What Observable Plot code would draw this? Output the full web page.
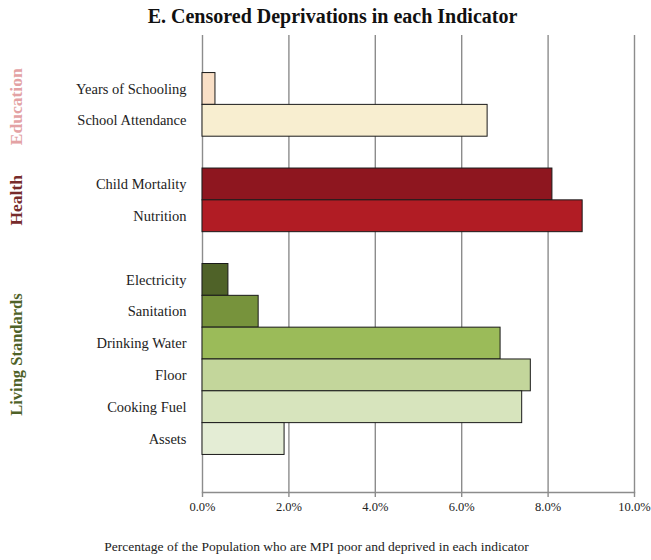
<!DOCTYPE html>
<html>
<head>
<meta charset="utf-8">
<script src="https://cdn.jsdelivr.net/npm/d3@7"></script>
<script src="https://cdn.jsdelivr.net/npm/@observablehq/plot@0.6"></script>
<style>
  html, body { margin: 0; padding: 0; background: #fff; }
  #chart svg { display: block; }
</style>
</head>
<body>
<div id="chart"></div>
<script>
const title = "E. Censored Deprivations in each Indicator";
const xLabel = "Percentage of the Population who are MPI poor and deprived in each indicator";

const educationIndicators = ["Years of Schooling", "School Attendance"];
const educationValues = [0.3, 6.6];
const healthIndicators = ["Child Mortality", "Nutrition"];
const healthValues = [8.1, 8.8];
const livingIndicators = ["Electricity", "Sanitation", "Drinking Water", "Floor", "Cooking Fuel", "Assets"];
const livingValues = [0.6, 1.3, 6.9, 7.6, 7.4, 1.9];

const groups = ["Education", "Health", "Living Standards"];
const xTicks = [0, 2, 4, 6, 8, 10];

// styles
const educationColors = ["#f9dfc6", "#f8eed0"];
const healthColors = ["#8e161f", "#b11c24"];
const livingColors = ["#4f6228", "#77933c", "#9bbb59", "#c3d69b", "#d7e4bd", "#e4edd5"];
const groupColors = ["#e3a2a4", "#772b2b", "#4f6228"];

const gapKeys = ["__gap1", "__gap2"];
const yDomain = [...educationIndicators, gapKeys[0], ...healthIndicators, gapKeys[1], ...livingIndicators];

const rows = [
  ...educationIndicators.map((d, i) => ({indicator: d, value: educationValues[i], group: groups[0]})),
  ...healthIndicators.map((d, i) => ({indicator: d, value: healthValues[i], group: groups[1]})),
  ...livingIndicators.map((d, i) => ({indicator: d, value: livingValues[i], group: groups[2]}))
];
const colorDomain = [...educationIndicators, ...healthIndicators, ...livingIndicators];
const colorRange = [...educationColors, ...healthColors, ...livingColors];

const groupLabel = (name, color, anchor, dy, size) => Plot.text([name], {
  y: [anchor], text: d => d, frameAnchor: "left", dx: -186, dy,
  rotate: -90, textAnchor: "middle", lineAnchor: "middle",
  fill: color, fontSize: size, fontWeight: "bold"
});

const chart = Plot.plot({
  width: 651,
  height: 560,
  marginTop: 35,
  marginBottom: 68,
  marginLeft: 202,
  marginRight: 17,
  style: {fontFamily: "'Liberation Serif', 'Times New Roman', serif", fontSize: "14px", color: "#222", background: "#fff"},
  x: {domain: [0, 10]},
  y: {domain: yDomain, paddingInner: 0, paddingOuter: 1.18, align: 0.5, round: false},
  color: {domain: colorDomain, range: colorRange},
  marks: [
    Plot.ruleX(xTicks, {stroke: "#8c8c8c", strokeWidth: 1.4}),
    Plot.barX(rows, {x: "value", y: "indicator", fill: "indicator", stroke: "#1a1a1a", strokeWidth: 1}),
    Plot.frame({anchor: "bottom", stroke: "#8c8c8c", strokeWidth: 1.4}),
    Plot.axisX({ticks: xTicks, tickFormat: d => d.toFixed(1) + "%", tickSize: 5, tickPadding: 5,
      stroke: "#8c8c8c", strokeWidth: 1.4, fill: "#222", fontSize: 12.5, label: null}),
    Plot.axisY({tickSize: 0, tickPadding: 16, fontSize: 14.5, fill: "#222", label: null,
      tickFormat: d => gapKeys.includes(d) ? "" : d}),
    groupLabel(groups[0], groupColors[0], educationIndicators[1], -14, 17.5),
    groupLabel(groups[1], groupColors[1], healthIndicators[1], -16, 17.5),
    groupLabel(groups[2], groupColors[2], livingIndicators[2], 11, 16.5),
    Plot.text([title], {text: d => d, frameAnchor: "top", dx: -86, dy: -19, lineAnchor: "middle",
      fontSize: 20, fontWeight: "bold", fill: "#111"}),
    Plot.text([xLabel], {text: d => d, frameAnchor: "bottom", dx: -102, dy: 54, lineAnchor: "middle",
      fontSize: 13.5, fill: "#222"})
  ]
});
document.getElementById("chart").appendChild(chart);
</script>
</body>
</html>
